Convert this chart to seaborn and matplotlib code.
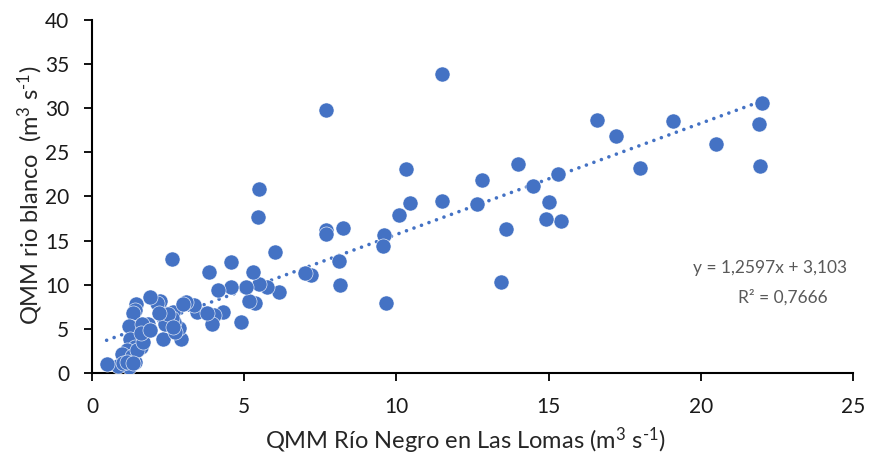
import matplotlib
matplotlib.use("Agg")
import matplotlib.pyplot as plt
import seaborn as sns
import pandas as pd
import numpy as np

# ---- data ----
x_vals = [22.0, 21.9, 21.95, 20.5, 19.1, 18.0, 17.2, 16.6, 15.4, 15.3,
          15.0, 14.9, 14.5, 14.0, 13.6, 13.45, 12.8, 12.65, 11.5, 11.5,
          10.45, 10.3, 10.1, 9.65, 9.6, 9.55, 8.25, 8.1, 8.15, 7.7,
          7.7, 7.7, 7.2, 7.0, 6.15, 6.0, 5.75, 5.5, 5.45, 5.5,
          5.3, 5.35, 5.15, 5.05, 4.9, 4.55, 4.55, 4.3, 4.15, 4.0,
          3.95, 3.85, 3.45, 3.35, 3.1, 2.92, 2.85, 2.7, 2.65, 2.62,
          2.62, 2.34, 2.3, 2.23, 2.12, 1.9, 1.85, 1.9, 1.7, 1.65,
          1.6, 1.45, 1.41, 1.36, 1.3, 1.2, 1.25, 1.4, 1.14, 1.0,
          1.4, 1.2, 0.85, 0.48, 1.3, 1.47, 1.69, 1.63, 2.4, 2.5,
          3.0, 1.03, 1.15, 1.36, 2.2, 1.6, 3.77, 2.73, 1.9, 2.67]
y_vals = [30.6, 28.2, 23.4, 25.9, 28.6, 23.2, 26.8, 28.7, 17.2, 22.5,
          19.4, 17.5, 21.2, 23.7, 16.3, 10.3, 21.9, 19.1, 33.9, 19.5,
          19.3, 23.1, 17.9, 7.9, 15.6, 14.4, 16.4, 12.7, 10.0, 29.8,
          16.2, 15.8, 11.1, 11.3, 9.2, 13.7, 9.8, 20.9, 17.7, 10.1,
          11.4, 7.95, 8.2, 9.8, 5.8, 12.6, 9.8, 6.95, 9.4, 6.6,
          5.6, 11.4, 6.95, 7.7, 8.1, 3.9, 5.1, 5.8, 6.9, 12.9,
          6.2, 3.9, 6.9, 8.2, 7.9, 8.6, 5.6, 4.9, 5.1, 3.4,
          3.0, 7.8, 7.1, 6.75, 5.25, 5.3, 3.9, 3.0, 2.6, 2.2,
          1.3, 0.7, 0.8, 1.0, 1.9, 2.6, 3.55, 5.6, 5.6, 6.7,
          7.8, 1.1, 1.2, 1.1, 6.75, 4.5, 6.75, 4.7, 4.9, 5.25]

slope = 1.2597
intercept = 3.103
eq_text = "y = 1,2597x + 3,103"
r2_text = "R² = 0,7666"

x_label = r"QMM Río Negro en Las Lomas (m$^{3}$ s$^{\text{-}1}$)"
y_label = r"QMM rio blanco  (m$^{3}$ s$^{\text{-}1}$)"
x_ticks = [0, 5, 10, 15, 20, 25]
y_ticks = [0, 5, 10, 15, 20, 25, 30, 35, 40]

color = "#4472C4"

sns.set_theme(style="white")
plt.rcParams["font.family"] = ["Lato", "DejaVu Sans"]
plt.rcParams["mathtext.fontset"] = "custom"
plt.rcParams["mathtext.rm"] = "Lato"
plt.rcParams["mathtext.it"] = "Lato:italic"
plt.rcParams["mathtext.bf"] = "Lato:bold"

df = pd.DataFrame({"x": x_vals, "y": y_vals})

W, H = 888, 462
fig = plt.figure(figsize=(W / 100, H / 100), dpi=100)
ax = fig.add_axes([92 / W, 1 - 373 / H, 761 / W, 353 / H])

sns.scatterplot(data=df, x="x", y="y", ax=ax, s=118, color=color,
                edgecolor="white", linewidth=0.4, zorder=3)

xs = np.array([min(x_vals), max(x_vals)])
ax.plot(xs, slope * xs + intercept, color=color, lw=2.6,
        linestyle=(0, (0.01, 2.2)), dash_capstyle="round", zorder=2)

ax.set_xlim(0, 25)
ax.set_ylim(0, 40)
ax.set_xticks(x_ticks)
ax.set_yticks(y_ticks)
ax.tick_params(axis="both", labelsize=15, colors="#000000", length=5.5,
               width=1.3, direction="out", left=True, bottom=True,
               labelcolor="#1a1a1a")
ax.tick_params(axis="x", pad=12)
ax.tick_params(axis="y", pad=11)
for side in ["left", "bottom"]:
    ax.spines[side].set_color("black")
    ax.spines[side].set_linewidth(1.5)
for side in ["top", "right"]:
    ax.spines[side].set_visible(False)

ax.set_xlabel(x_label, fontsize=17, color="#262626")
ax.set_ylabel(y_label, fontsize=17, color="#262626")
ax.xaxis.label.set_va("center")
ax.yaxis.label.set_va("center")
ax.xaxis.set_label_coords((465 - 92) / 761, -(441 - 373) / 353)
ax.yaxis.set_label_coords(-(92 - 30) / 761, (373 - 195) / 353)

ax.text(770, H - 268, eq_text, transform=None, fontsize=12.5, color="#595959",
        ha="center", va="center")
ax.text(783, H - 297, r2_text, transform=None, fontsize=12.5, color="#595959",
        ha="center", va="center")

fig.savefig("out.png", dpi=100)
